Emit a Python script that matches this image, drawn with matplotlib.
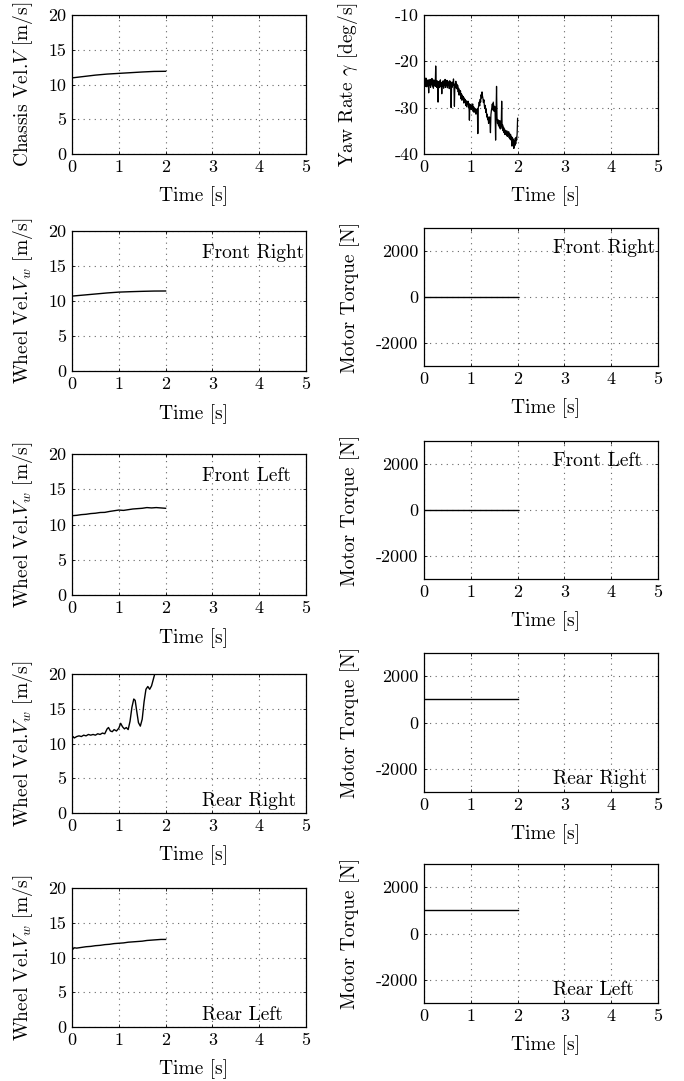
import numpy as np
import matplotlib
matplotlib.use("Agg")
import matplotlib.pyplot as plt
from matplotlib.ticker import FixedLocator, FixedFormatter

plt.rcParams['font.family'] = ['cmr10', 'DejaVu Serif']
plt.rcParams['mathtext.fontset'] = 'cm'
plt.rcParams['axes.formatter.use_mathtext'] = True

# ---------------- data ----------------
chassis_t = [0.0, 0.25, 0.5, 0.75, 1.0, 1.25, 1.5, 1.75, 2.0]
chassis_v = [10.95, 11.15, 11.35, 11.5, 11.6, 11.7, 11.8, 11.88, 11.9]

yaw_rate = [
    -23.8, -25.0, -24.2, -25.4, -23.6, -24.9, -25.5, -24.1, -25.2, -24.0,
    -26.8, -24.3, -25.1, -23.9, -25.6, -24.4, -24.9, -23.7, -25.3, -24.2,
    -25.8, -24.0, -25.0, -24.6, -25.4,
    -21.0, -24.5, -25.6, -24.2, -25.0,
    -28.8, -24.4, -25.7, -24.3, -25.2, -24.0, -25.5, -24.6, -27.0, -24.5,
    -25.3, -24.2, -25.8, -24.4, -25.1, -23.9, -25.6, -24.5, -25.2, -24.1,
    -25.7, -24.3, -25.0, -24.6, -25.9, -24.2, -25.3, -24.4, -30.0, -24.7,
    -25.6, -24.5, -25.2, -23.8, -25.4, -29.7, -24.9, -25.5, -24.3, -25.8,
    -24.9, -26.0, -25.2, -26.6, -25.8, -27.3, -26.2, -27.0, -26.4, -28.1,
    -27.0, -28.4, -27.3, -28.0, -27.6, -29.0, -27.9, -28.6, -28.2, -29.5,
    -28.5, -29.8, -28.7, -29.3, -28.6, -30.0, -29.1, -32.7, -29.4, -30.2,
    -29.3, -30.4, -29.6, -30.0, -29.2, -30.8, -29.8, -31.0, -30.1, -30.6,
    -30.3, -31.4, -30.5, -31.0, -30.2, -35.6, -30.0, -29.5, -28.8, -29.6,
    -28.2, -28.8, -27.2, -27.9, -26.6, -27.5, -28.0, -28.9, -28.3, -29.6,
    -30.2, -29.5, -31.0, -30.3, -32.0, -31.4, -32.6, -32.0, -33.4, -32.5,
    -32.0, -33.2, -35.4, -31.5, -30.6, -30.0, -29.2, -30.5, -28.8, -29.9,
    -30.8, -29.7, -31.2, -37.0, -30.5, -25.4, -32.0, -33.4, -32.6, -33.8,
    -33.0, -34.2, -32.8, -34.6, -33.4, -34.0, -28.6, -34.5, -33.7, -35.0,
    -34.2, -35.4, -34.6, -35.8, -34.9, -35.3, -35.9, -35.0, -36.2, -35.4,
    -36.0, -35.2, -36.5, -35.6, -36.8, -35.8, -37.0, -36.2, -38.3, -36.5,
    -37.6, -36.8, -38.8, -37.2, -38.2, -36.6, -37.8, -36.4, -37.0, -35.6,
    -32.3]
yaw_t = np.linspace(0.0, 2.0, len(yaw_rate))

fr_t = [0.0, 0.25, 0.5, 0.75, 1.0, 1.25, 1.5, 1.75, 2.0]
fr_v = [10.7, 10.85, 11.0, 11.15, 11.27, 11.33, 11.38, 11.42, 11.43]

fl_t = [0.0, 0.1, 0.2, 0.3, 0.4, 0.5, 0.6, 0.7, 0.8, 0.9, 1.0,
        1.1, 1.2, 1.3, 1.4, 1.5, 1.6, 1.7, 1.8, 1.9, 2.0]
fl_v = [11.25, 11.3, 11.4, 11.45, 11.55, 11.6, 11.7, 11.72, 11.85, 11.95, 12.05,
        12.0, 12.1, 12.2, 12.25, 12.3, 12.4, 12.35, 12.4, 12.35, 12.3]

rr_t = [0.0, 0.02, 0.05, 0.1, 0.15, 0.2, 0.25, 0.3, 0.35, 0.4, 0.45, 0.5, 0.55,
        0.6, 0.65, 0.7, 0.75, 0.78, 0.82, 0.86, 0.9, 0.95, 1.0, 1.04, 1.08, 1.12,
        1.16, 1.2, 1.24, 1.28, 1.32, 1.35, 1.38, 1.42, 1.46, 1.5, 1.54, 1.58, 1.62,
        1.66, 1.7, 1.74, 1.78, 1.85, 1.92, 2.0]
rr_v = [10.6, 11.0, 10.8, 11.0, 11.1, 11.0, 11.2, 11.1, 11.3, 11.2, 11.3, 11.2, 11.4,
        11.3, 11.5, 11.4, 12.1, 12.3, 11.8, 11.7, 12.0, 11.8, 12.2, 12.9, 12.4, 12.1,
        12.3, 12.0, 13.2, 15.2, 16.4, 16.2, 14.8, 13.0, 12.5, 13.5, 16.0, 17.8, 18.2,
        17.8, 18.3, 19.3, 20.3, 22.0, 23.5, 25.0]

rl_t = [0.0, 0.02, 0.05, 0.1, 0.2, 0.3, 0.4, 0.5, 0.6, 0.7, 0.8, 0.9, 1.0,
        1.1, 1.2, 1.3, 1.4, 1.5, 1.6, 1.7, 1.8, 1.9, 2.0]
rl_v = [11.8, 11.2, 11.4, 11.35, 11.45, 11.55, 11.6, 11.7, 11.75, 11.85, 11.9, 12.0, 12.05,
        12.1, 12.2, 12.25, 12.3, 12.35, 12.45, 12.5, 12.55, 12.6, 12.6]

torque_t = [0.0, 2.0]
torque_fr = [0.0, 0.0]
torque_fl = [0.0, 0.0]
torque_rr = [1000.0, 1000.0]
torque_rl = [1000.0, 1000.0]

vel_ticks = [0, 5, 10, 15, 20]
vel_ticklabels = ['0', '5', '10', '15', '20']
yaw_ticks = [-40, -30, -20, -10]
yaw_ticklabels = ['-40', '-30', '-20', '-10']
tq_ticks = [-2000, 0, 2000]
tq_ticklabels = ['-2000', '0', '2000']
time_ticks = [0, 1, 2, 3, 4, 5]
time_ticklabels = ['0', '1', '2', '3', '4', '5']

# ---------------- layout ----------------
W, H = 684, 1081
fig = plt.figure(figsize=(W / 100, H / 100), dpi=100)

left_x = (72, 306)
right_x = (424, 658)
left_rows = [(15, 154), (231, 371), (454, 595), (674, 813), (888, 1027)]
right_rows = [(15, 154), (228, 366), (441, 579), (653, 792), (864, 1003)]

TICK_FS = 13
LAB_FS = 14


def make_ax(xr, yr):
    l, r = xr
    t, b = yr
    ax = fig.add_axes([l / W, 1 - b / H, (r - l) / W, (b - t) / H])
    ax.set_xlim(0, 5)
    ax.xaxis.set_major_locator(FixedLocator(time_ticks))
    ax.xaxis.set_major_formatter(FixedFormatter(time_ticklabels))
    ax.grid(True, color='0.4', linestyle=(0, (1, 4)), linewidth=0.8)
    ax.tick_params(direction='in', length=2, width=0.6, top=True, right=True,
                   labelsize=TICK_FS, pad=4)
    for s in ax.spines.values():
        s.set_linewidth(0.9)
    ax.set_xlabel('Time [s]', fontsize=LAB_FS)
    ax.xaxis.set_label_coords(0.52, -0.235)
    return ax


def vel_axis(ax, ylabel):
    ax.set_ylim(0, 20)
    ax.yaxis.set_major_locator(FixedLocator(vel_ticks))
    ax.yaxis.set_major_formatter(FixedFormatter(vel_ticklabels))
    ax.set_ylabel(ylabel, fontsize=LAB_FS)
    ax.yaxis.set_label_coords(-0.157, 0.5)


def tq_axis(ax):
    ax.set_ylim(-3000, 3000)
    ax.yaxis.set_major_locator(FixedLocator(tq_ticks))
    ax.yaxis.set_major_formatter(FixedFormatter(tq_ticklabels))
    ax.set_ylabel('Motor Torque [N]', fontsize=LAB_FS)
    ax.yaxis.set_label_coords(-0.275, 0.5)


lw = 1.0

# Row 1
ax = make_ax(left_x, left_rows[0])
vel_axis(ax, r'Chassis Vel.$V$ [m/s]')
ax.plot(chassis_t, chassis_v, color='k', lw=lw)

ax = make_ax(right_x, right_rows[0])
ax.set_ylim(-40, -10)
ax.yaxis.set_major_locator(FixedLocator(yaw_ticks))
ax.yaxis.set_major_formatter(FixedFormatter(yaw_ticklabels))
ax.set_ylabel(r'Yaw Rate $\gamma$ [deg/s]', fontsize=LAB_FS)
ax.yaxis.set_label_coords(-0.275, 0.5)
ax.plot(yaw_t, yaw_rate, color='k', lw=0.9)

# Wheel velocities & torques
wheel_data = [(fr_t, fr_v, 'Front Right', 0.81),
              (fl_t, fl_v, 'Front Left', 0.81),
              (rr_t, rr_v, 'Rear Right', 0.05),
              (rl_t, rl_v, 'Rear Left', 0.05)]
torques = [torque_fr, torque_fl, torque_rr, torque_rl]

for i, (tt, vv, name, ty) in enumerate(wheel_data):
    ax = make_ax(left_x, left_rows[i + 1])
    vel_axis(ax, r'Wheel Vel.$V_w$ [m/s]')
    ax.plot(tt, vv, color='k', lw=lw)
    ax.text(0.555, ty, name, transform=ax.transAxes, fontsize=LAB_FS,
            ha='left', va='baseline')

    ax = make_ax(right_x, right_rows[i + 1])
    tq_axis(ax)
    ax.plot(torque_t, torques[i], color='k', lw=lw)
    ax.text(0.55, 0.82 if ty > 0.5 else 0.055, name, transform=ax.transAxes,
            fontsize=LAB_FS, ha='left', va='baseline')

fig.savefig('out.png', dpi=100)
